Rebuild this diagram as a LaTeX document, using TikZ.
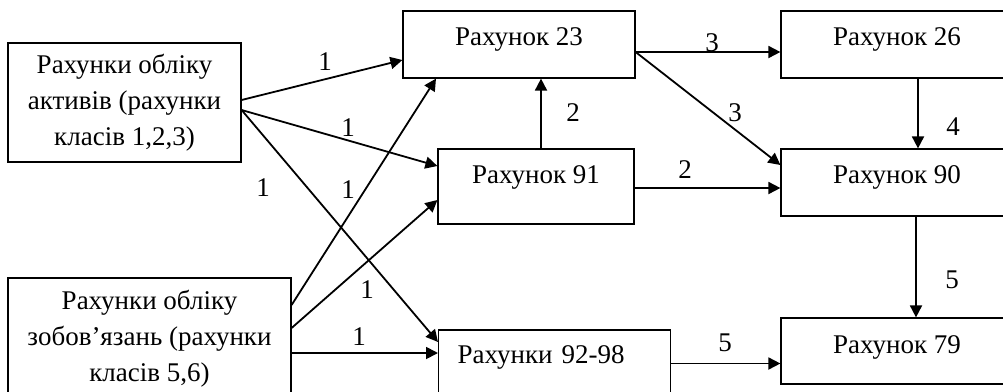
\documentclass[tikz,border=0pt]{standalone}
\usepackage{fontspec}
\setmainfont{Liberation Serif}
\usetikzlibrary{positioning,arrows.meta}

\begin{document}
\begin{tikzpicture}[x=1pt, y=-1pt,
          acc/.style = {shape=rectangle, draw, line width=1.2pt,
            inner sep=0pt, font=\fontsize{27}{36}\selectfont},
          num/.style = {inner sep=0pt, font=\fontsize{27}{36}\selectfont},
          flow/.style = {line width=1.8pt,
            -{Triangle[length=12pt,width=12pt]}}]
  \useasboundingbox (0,0) rectangle (1003,391);
  \clip (0,0) rectangle (1003,391);
  \node[acc, align=center, minimum width=233pt, minimum height=119pt]
    (assets) at (124.5,102.5) {Рахунки обліку\\активів (рахунки\\класів 1,2,3)};
  \node[acc, align=center, minimum width=283pt, minimum height=122pt]
    (liab) at (149.5,339) {Рахунки обліку\\зобов’язань (рахунки\\класів 5,6)};
  \node[acc, anchor=base, minimum width=232pt, text height=34pt, text depth=33pt]
    (r23) at (519,45) {Рахунок 23};
  \node[acc, anchor=base, minimum width=196pt, text height=34pt, text depth=41pt]
    (r91) at (536,183) {Рахунок 91};
  \node[acc, anchor=base west, text width=194pt, inner xsep=19pt, align=left,
    text height=33pt, text depth=34pt]
    (r9298) at (438,363) {Рахунки 92-98};
  \node[acc, anchor=base, minimum width=232pt, text height=34pt, text depth=33pt]
    (r26) at (897,45) {Рахунок 26};
  \node[acc, anchor=base, minimum width=232pt, text height=34pt, text depth=33pt]
    (r90) at (897,183) {Рахунок 90};
  \node[acc, anchor=base, minimum width=232pt, text height=35pt, text depth=31pt]
    (r79) at (897,353) {Рахунок 79};

  \coordinate (o23) at ([yshift=-7.5pt]r23.east);
  \coordinate (o91) at ([yshift=-1.5pt]r91.east);
  \coordinate (oli) at ([yshift=-14pt]liab.east);
  \coordinate (up91) at ([xshift=5pt]r91.north);
  \coordinate (dn26) at ([xshift=21pt]r26.south);
  \coordinate (dn90) at ([xshift=19pt]r90.south);

  \draw[flow] ([yshift=2.5pt]assets.east) -- ([yshift=-15.5pt]r23.west);
  \draw[flow] ([yshift=-7.5pt]assets.east) -- ([yshift=20.5pt]r91.west);
  \draw[flow] ([yshift=-7.5pt]assets.east) -- ([yshift=21.5pt]r9298.west);
  \draw[flow] ([yshift=34pt]liab.east) -- ([xshift=-83pt]r23.south);
  \draw[flow] ([yshift=11pt]liab.east) -- ([yshift=-13.5pt]r91.west);
  \draw[flow] (oli) -- (oli -| r9298.west);
  \draw[flow] (up91) -- (up91 |- r23.south);
  \draw[flow] (o91) -- (o91 -| r90.west);
  \draw[flow] (o23) -- (o23 -| r26.west);
  \draw[flow] (o23) -- ([yshift=17.5pt]r90.west);
  \draw[flow] (dn26) -- (dn26 |- r90.north);
  \draw[flow] (dn90) -- (dn90 |- r79.north);
  \draw[flow] (r9298.east) -- (r9298.east -| r79.west);

  \node[num] (n1) at (325,62) {1};
  \node[num] (n2) at (348,128) {1};
  \node[num] (n3) at (263,188) {1};
  \node[num] (n4) at (348,190) {1};
  \node[num] (n5) at (367,290) {1};
  \node[num] (n6) at (359,337) {1};
  \node[num] (n7) at (573,113) {2};
  \node[num] (n8) at (685,170) {2};
  \node[num] (n9) at (712,43) {3};
  \node[num] (n10) at (735,113) {3};
  \node[num] (n11) at (953,127) {4};
  \node[num] (n12) at (952,280) {5};
  \node[num] (n13) at (725,343) {5};
\end{tikzpicture}
\end{document}
